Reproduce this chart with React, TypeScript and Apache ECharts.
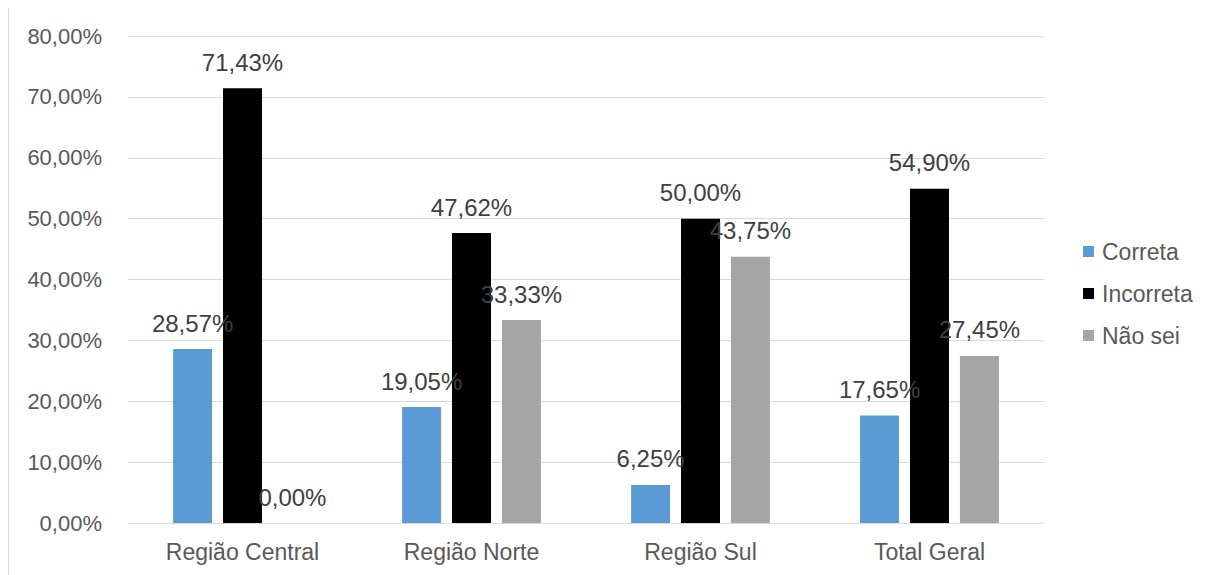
import React, { useEffect, useRef } from "react";
import * as echarts from "echarts";

const categories = ["Região Central", "Região Norte", "Região Sul", "Total Geral"];
const correta = [28.57, 19.05, 6.25, 17.65];
const incorreta = [71.43, 47.62, 50.0, 54.9];
const naoSei = [0.0, 33.33, 43.75, 27.45];
const seriesNames = ["Correta", "Incorreta", "Não sei"];
const seriesColors = ["#5b9bd5", "#000000", "#a5a5a5"];

const fmt = (v: number) => v.toFixed(2).replace(".", ",") + "%";
const FONT = "Liberation Sans, Arial, sans-serif";

export default function App() {
  const ref = useRef<HTMLDivElement>(null);

  useEffect(() => {
    document.body.style.overflow = "hidden";
    const chart = echarts.init(ref.current!, null, { renderer: "svg" });
    const values = [correta, incorreta, naoSei];
    chart.setOption({
      animation: false,
      textStyle: { fontFamily: FONT },
      grid: { left: 119, top: 29, width: 916, height: 487 },
      legend: {
        orient: "vertical",
        left: 1074,
        top: 233,
        padding: 0,
        itemWidth: 11,
        itemHeight: 11,
        itemGap: 19,
        icon: "rect",
        textStyle: { color: "#595959", fontSize: 23, fontFamily: FONT, padding: [0, 0, 0, 3] },
        data: seriesNames,
      },
      xAxis: {
        type: "category",
        data: categories,
        axisLine: { lineStyle: { color: "#d9d9d9", width: 1 } },
        axisTick: { show: false },
        axisLabel: { color: "#595959", fontSize: 23, margin: 17, fontFamily: FONT },
      },
      yAxis: {
        type: "value",
        min: 0,
        max: 80,
        interval: 10,
        axisLine: { show: false },
        axisTick: { show: false },
        splitLine: { lineStyle: { color: "#d9d9d9", width: 1 } },
        axisLabel: { color: "#595959", fontSize: 22, margin: 26, formatter: fmt, fontFamily: FONT },
      },
      series: seriesNames.map((name, i) => ({
        name,
        type: "bar",
        data: values[i],
        barWidth: 39,
        barGap: "28%",
        itemStyle: { color: seriesColors[i] },
        label: {
          show: true,
          position: "top",
          distance: 14,
          color: "#404040",
          fontSize: 24,
          fontFamily: FONT,
          formatter: (p: any) => fmt(p.value),
        },
      })),
    });
    return () => chart.dispose();
  }, []);

  return (
    <div
      style={{
        marginTop: -2,
        width: 1230,
        height: 600,
        border: "1px solid #d9d9d9",
        boxSizing: "border-box",
      }}
    >
      <div ref={ref} style={{ width: 1228, height: 598 }} />
    </div>
  );
}
